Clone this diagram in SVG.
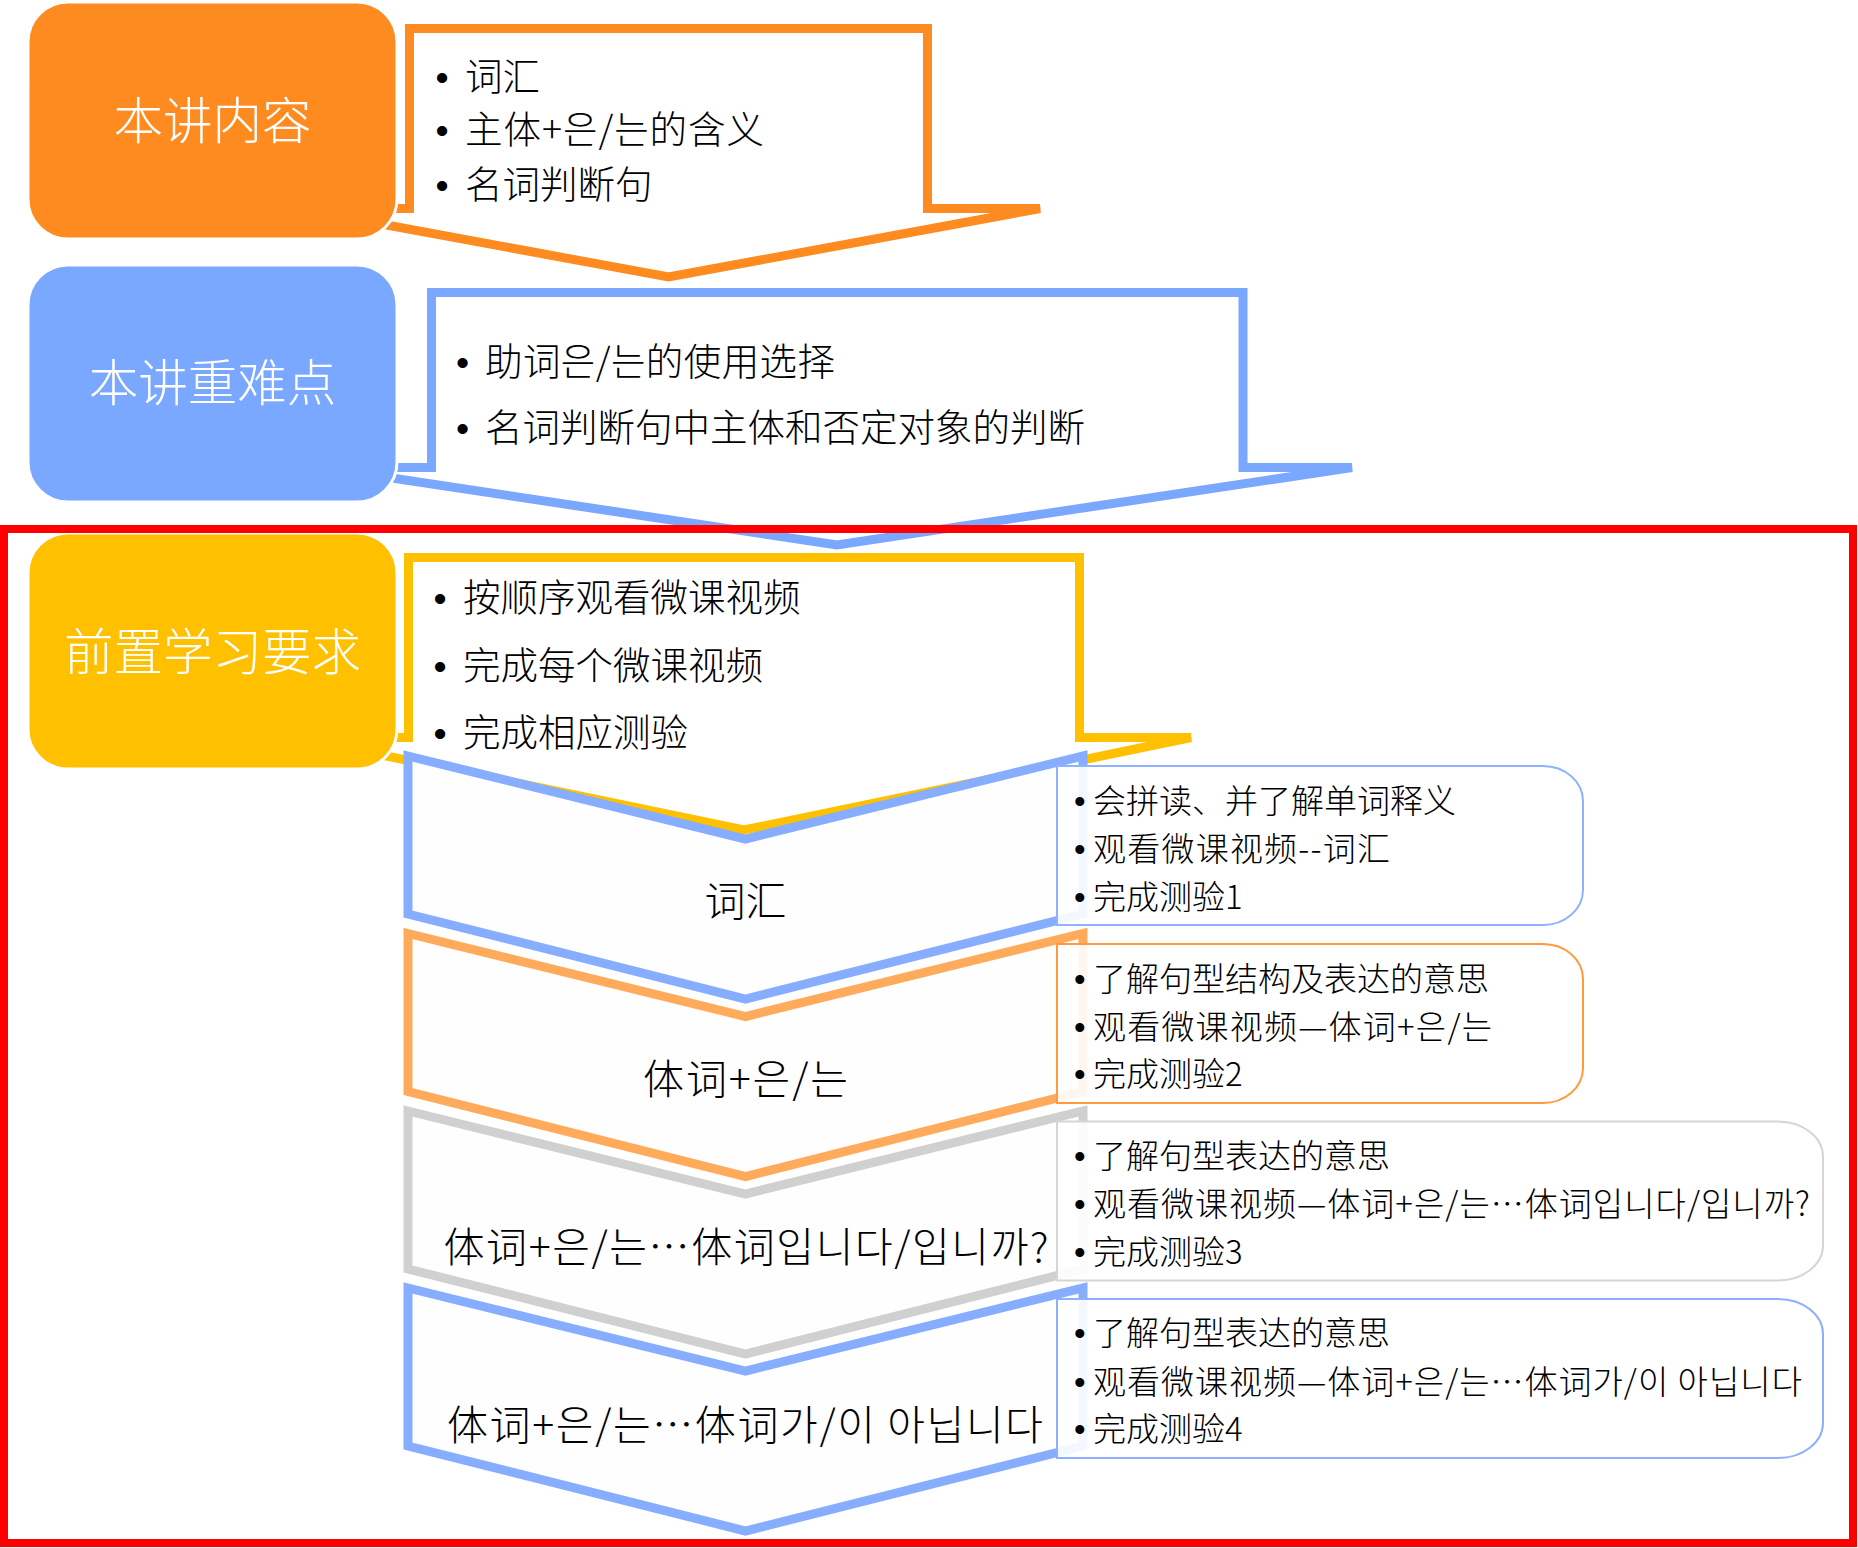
<svg xmlns="http://www.w3.org/2000/svg" width="1858" height="1548" viewBox="0 0 1858 1548">
<style>
.cjk{font-family:"Noto Sans CJK SC","Noto Sans CJK KR",sans-serif;fill:#000;font-weight:300}
.bul{font-family:"Liberation Sans",sans-serif}
.head{font-size:49.5px;fill:#fff;text-anchor:middle}
.co{font-size:37.5px}
.lbl{font-size:41px;text-anchor:middle}
.bx{font-size:33px}
.callout{fill:#fff;stroke-width:9;stroke-linejoin:miter}
.chev{fill:#fefefe;stroke-width:9;stroke-linejoin:miter}
.tbox{fill:#fff;fill-opacity:0.9;stroke-width:2}
.hbox{stroke:#fff;stroke-width:3}
</style>
<rect width="1858" height="1548" fill="#fff"/>

<g id="callout-content">
<path class="callout" stroke="#fd8b1f" d="M409.5,28.5 H927.5 V208.5 H1040 L668.5,277 L297,208.5 H409.5 Z"/>
<text class="cjk co" y="89.5"><tspan class="bul" x="435.5">•</tspan><tspan x="465">词汇</tspan></text>
<text class="cjk co" y="142.5"><tspan class="bul" x="435.5">•</tspan><tspan x="465" textLength="299">主体+은/는的含义</tspan></text>
<text class="cjk co" y="197.5"><tspan class="bul" x="435.5">•</tspan><tspan x="465">名词判断句</tspan></text>
</g>
<g id="head-content">
<rect class="hbox" x="28" y="2" width="369" height="237" rx="40" fill="#fd8b1f"/>
<text class="cjk head" x="212.5" y="138.5">本讲内容</text>
</g>

<g id="callout-difficulty">
<path class="callout" stroke="#7aa7ff" d="M431.5,292.5 H1243 V467.5 H1352 L837,545 L322,467.5 H431.5 Z"/>
<text class="cjk co" y="374.5"><tspan class="bul" x="456">•</tspan><tspan x="485" textLength="350">助词은/는的使用选择</tspan></text>
<text class="cjk co" y="440.5"><tspan class="bul" x="456">•</tspan><tspan x="485">名词判断句中主体和否定对象的判断</tspan></text>
</g>
<g id="head-difficulty">
<rect class="hbox" x="28" y="265" width="369" height="237" rx="40" fill="#7aa7ff"/>
<text class="cjk head" x="212.5" y="400.5">本讲重难点</text>
</g>

<g id="callout-prereq">
<path class="callout" stroke="#ffc000" d="M408.5,557.5 H1079.5 V737.5 H1191 L744,830 L297,737.5 H408.5 Z"/>
<text class="cjk co" y="610.5"><tspan class="bul" x="433.5">•</tspan><tspan x="463">按顺序观看微课视频</tspan></text>
<text class="cjk co" y="679"><tspan class="bul" x="433.5">•</tspan><tspan x="463">完成每个微课视频</tspan></text>
<text class="cjk co" y="745.5"><tspan class="bul" x="433.5">•</tspan><tspan x="463">完成相应测验</tspan></text>
</g>
<g id="head-prereq">
<rect class="hbox" x="28" y="533" width="369" height="236" rx="40" fill="#ffc000"/>
<text class="cjk head" x="212.5" y="669.5">前置学习要求</text>
</g>

<g id="chevron-1">
<path class="chev" stroke="#86adff" d="M408,756 L745.5,839 L1083,756 V914 L745.5,999 L408,914 Z"/>
<text class="cjk lbl" x="745.5" y="916">词汇</text>
</g>
<g id="chevron-2">
<path class="chev" stroke="#ffab5b" d="M408,933.5 L745.5,1016.5 L1083,933.5 V1091.5 L745.5,1176.5 L408,1091.5 Z"/>
<text class="cjk lbl" x="745.5" y="1094" textLength="205">体词+은/는</text>
</g>
<g id="chevron-3">
<path class="chev" stroke="#d0d0d0" d="M408,1111 L745.5,1194 L1083,1111 V1269 L745.5,1354 L408,1269 Z"/>
<text class="cjk lbl" x="746" y="1262" textLength="605">体词+은/는…体词입니다/입니까?</text>
</g>
<g id="chevron-4">
<path class="chev" stroke="#86adff" d="M408,1288 L745.5,1371 L1083,1288 V1446 L745.5,1531 L408,1446 Z"/>
<text class="cjk lbl" x="745" y="1440" textLength="596">体词+은/는…体词가/이 아닙니다</text>
</g>

<g id="box-1">
<path class="tbox" stroke="#8db3ff" d="M1057,766 H1543 A40,35 0 0 1 1583,801 V890 A40,35 0 0 1 1543,925 H1057 Z"/>
<text class="cjk bx" y="813"><tspan class="bul" x="1074">•</tspan><tspan x="1093">会拼读、并了解单词释义</tspan></text>
<text class="cjk bx" y="861"><tspan class="bul" x="1074">•</tspan><tspan x="1093" textLength="297">观看微课视频--词汇</tspan></text>
<text class="cjk bx" y="909"><tspan class="bul" x="1074">•</tspan><tspan x="1093">完成测验1</tspan></text>
</g>
<g id="box-2">
<path class="tbox" stroke="#ff9b3d" d="M1057,944 H1543 A40,35 0 0 1 1583,979 V1068 A40,35 0 0 1 1543,1103 H1057 Z"/>
<text class="cjk bx" y="990.5"><tspan class="bul" x="1074">•</tspan><tspan x="1093">了解句型结构及表达的意思</tspan></text>
<text class="cjk bx" y="1039"><tspan class="bul" x="1074">•</tspan><tspan x="1093" textLength="399">观看微课视频—体词+은/는</tspan></text>
<text class="cjk bx" y="1086"><tspan class="bul" x="1074">•</tspan><tspan x="1093">完成测验2</tspan></text>
</g>
<g id="box-3">
<path class="tbox" stroke="#d5d5d5" d="M1057,1121.5 H1778 A45,35 0 0 1 1823,1156.5 V1245.5 A45,35 0 0 1 1778,1280.5 H1057 Z"/>
<text class="cjk bx" y="1167.5"><tspan class="bul" x="1074">•</tspan><tspan x="1093">了解句型表达的意思</tspan></text>
<text class="cjk bx" y="1215.5"><tspan class="bul" x="1074">•</tspan><tspan x="1093" textLength="717">观看微课视频—体词+은/는…体词입니다/입니까?</tspan></text>
<text class="cjk bx" y="1263.5"><tspan class="bul" x="1074">•</tspan><tspan x="1093">完成测验3</tspan></text>
</g>
<g id="box-4">
<path class="tbox" stroke="#8ab0ff" d="M1057,1299 H1778 A45,35 0 0 1 1823,1334 V1423 A45,35 0 0 1 1778,1458 H1057 Z"/>
<text class="cjk bx" y="1345"><tspan class="bul" x="1074">•</tspan><tspan x="1093">了解句型表达的意思</tspan></text>
<text class="cjk bx" y="1393.5"><tspan class="bul" x="1074">•</tspan><tspan x="1093" textLength="709">观看微课视频—体词+은/는…体词가/이 아닙니다</tspan></text>
<text class="cjk bx" y="1441"><tspan class="bul" x="1074">•</tspan><tspan x="1093">完成测验4</tspan></text>
</g>

<g id="connectors"></g>

<g id="frame">
<rect x="4" y="529" width="1849" height="1014" fill="none" stroke="#ff0000" stroke-width="8"/>
</g>
</svg>
